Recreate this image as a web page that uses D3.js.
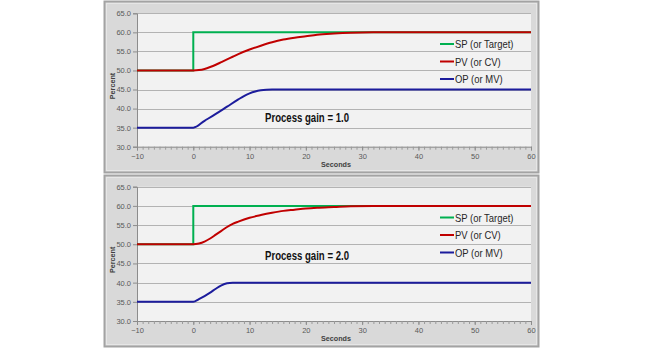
<!DOCTYPE html>
<html>
<head>
<meta charset="utf-8">
<script src="https://cdn.jsdelivr.net/npm/d3@7"></script>
<style>
  html, body { margin: 0; padding: 0; background: #ffffff; }
  svg { display: block; }
  .tick text { font-family: "Liberation Sans", Arial, sans-serif; }
</style>
</head>
<body>
<svg id="chart" width="645" height="350"></svg>
<script>
// Step response of a PID loop for two process gains
const xTicks = [-10, 0, 10, 20, 30, 40, 50, 60];
const yTicks = [30, 35, 40, 45, 50, 55, 60, 65];
const seriesNames = ["SP (or Target)", "PV (or CV)", "OP (or MV)"];
const gainLabels = ["Process gain = 1.0", "Process gain = 2.0"];

// Setpoint step (same in both runs)
const spTime  = [-10, 0, 0, 60];
const spValue = [50, 50, 60, 60];

// Gain 1.0 run
const pv1Time  = [-10, 0, 1, 2, 3, 4, 5, 6, 7, 8, 10, 12, 14, 16, 18, 20, 22, 25, 28, 32, 60];
const pv1Value = [50, 50, 50.1, 50.4, 50.9, 51.5, 52.2, 52.9, 53.6, 54.3, 55.5, 56.5, 57.4, 58.1, 58.6, 59.0, 59.4, 59.7, 59.9, 60, 60];
const op1Time  = [-10, 0, 2, 4, 6, 8, 9, 10, 11, 12, 13, 14, 60];
const op1Value = [35, 35, 36.8, 38.6, 40.5, 42.4, 43.3, 44.0, 44.5, 44.8, 44.95, 45, 45];

// Gain 2.0 run
const pv2Time  = [-10, 0, 1, 2, 3, 4, 5, 6, 7, 8, 10, 12, 14, 16, 18, 20, 22, 25, 28, 32, 60];
const pv2Value = [50, 50, 50.2, 50.7, 51.5, 52.5, 53.5, 54.5, 55.3, 55.9, 56.9, 57.6, 58.2, 58.7, 59.0, 59.3, 59.5, 59.7, 59.9, 60, 60];
const op2Time  = [-10, 0, 1, 2, 3, 4, 5, 6, 7, 60];
const op2Value = [35, 35, 35.7, 36.5, 37.4, 38.4, 39.3, 39.85, 40, 40];

const panels = [
  { top: 1,   gain: gainLabels[0], pvT: pv1Time, pvV: pv1Value, opT: op1Time, opV: op1Value },
  { top: 175, gain: gainLabels[1], pvT: pv2Time, pvV: pv2Value, opT: op2Time, opV: op2Value }
];

const colors = ["#00b050", "#c00000", "#1c1c9c"];
const sans = '"Liberation Sans", Arial, sans-serif';
const svg = d3.select("#chart");

panels.forEach((p, i) => {
  const g = svg.append("g").attr("transform", `translate(0,${p.top})`);

  // chart frame
  g.append("rect").attr("x", 104.5).attr("y", 0.5).attr("width", 434).attr("height", 171)
    .attr("fill", "#d9d9d9").attr("stroke", "#a3a3a3").attr("stroke-width", 2);
  g.append("rect").attr("x", 106.5).attr("y", 2.5).attr("width", 430).attr("height", 167)
    .attr("fill", "none").attr("stroke", "#e6e6e6").attr("stroke-width", 1);

  const plotTop = i === 0 ? 12.3 : 11.7;
  const plotBottom = i === 0 ? 145.7 : 146;
  const x = d3.scaleLinear().domain([-10, 60]).range([137, 531]);
  const y = d3.scaleLinear().domain([30, 65]).range([plotBottom, plotTop]);

  // plot area
  g.append("rect").attr("x", x(-10)).attr("y", y(65)).attr("width", x(60) - x(-10))
    .attr("height", y(30) - y(65)).attr("fill", "#f2f2f2");

  // horizontal gridlines
  g.append("g").selectAll("line").data(yTicks.filter(v => v > 30)).join("line")
    .attr("x1", x(-10)).attr("x2", x(60))
    .attr("y1", d => Math.round(y(d)) + 0.5).attr("y2", d => Math.round(y(d)) + 0.5)
    .attr("stroke", "#b3b3b3").attr("stroke-width", 1);

  // y axis
  const yAxis = g.append("g").attr("transform", `translate(${x(-10)},0)`)
    .call(d3.axisLeft(y).tickValues(yTicks).tickFormat(d3.format(".1f")).tickSize(4).tickPadding(2));
  yAxis.select(".domain").attr("stroke", "#8c8c8c");
  yAxis.selectAll(".tick line").attr("stroke", "#8c8c8c");
  yAxis.selectAll(".tick text").attr("font-size", 7.5).attr("fill", "#595959");

  // x axis: minor ticks every second, labelled every ten
  const xMinor = g.append("g").attr("transform", `translate(0,${y(30)})`)
    .call(d3.axisBottom(x).tickValues(d3.range(-10, 61, 1)).tickFormat("").tickSize(3));
  xMinor.select(".domain").attr("stroke", "#8c8c8c");
  xMinor.selectAll(".tick line").attr("stroke", "#9a9a9a");
  const xAxis = g.append("g").attr("transform", `translate(0,${y(30)})`)
    .call(d3.axisBottom(x).tickValues(xTicks).tickFormat(d3.format("d")).tickSize(4).tickPadding(3));
  xAxis.select(".domain").remove();
  xAxis.selectAll(".tick line").attr("stroke", "#8c8c8c");
  xAxis.selectAll(".tick text").attr("font-size", 7.5).attr("fill", "#595959");

  // axis titles
  g.append("text").attr("transform", "translate(336,166) scale(0.9,1)").attr("text-anchor", "middle")
    .attr("font-family", sans).attr("font-size", 8).attr("font-weight", "bold")
    .attr("fill", "#404040").text("Seconds");
  g.append("text").attr("transform", `translate(115,${(y(65) + y(30)) / 2 + 6}) rotate(-90) scale(0.9,1)`)
    .attr("text-anchor", "middle").attr("font-family", sans).attr("font-size", 8)
    .attr("font-weight", "bold").attr("fill", "#404040").text("Percent");

  // series
  const stepLine = d3.line().x(d => x(d[0])).y(d => y(d[1]));
  const smoothLine = d3.line().x(d => x(d[0])).y(d => y(d[1])).curve(d3.curveMonotoneX);
  g.append("path").datum(d3.zip(spTime, spValue)).attr("d", stepLine)
    .attr("fill", "none").attr("stroke", colors[0]).attr("stroke-width", 2);
  g.append("path").datum(d3.zip(p.pvT, p.pvV)).attr("d", smoothLine)
    .attr("fill", "none").attr("stroke", colors[1]).attr("stroke-width", 2);
  g.append("path").datum(d3.zip(p.opT, p.opV)).attr("d", smoothLine)
    .attr("fill", "none").attr("stroke", colors[2]).attr("stroke-width", 2);

  // legend
  const legendY = i === 0 ? [43, 60.5, 78] : [42.5, 60, 77.5];
  seriesNames.forEach((name, k) => {
    g.append("line").attr("x1", 440).attr("x2", 454).attr("y1", legendY[k]).attr("y2", legendY[k])
      .attr("stroke", colors[k]).attr("stroke-width", 2);
    g.append("text").attr("transform", `translate(455,${legendY[k] + 4}) scale(0.86,1)`)
      .attr("font-family", sans).attr("font-size", 11).attr("fill", "#262626").text(name);
  });

  // gain annotation
  g.append("text").attr("transform", `translate(265,${(i === 0 ? 116.5 : 80) + 4.5}) scale(0.8,1)`)
    .attr("font-family", sans).attr("font-size", 12).attr("font-weight", "bold")
    .attr("fill", "#111111").text(p.gain);
});
</script>
</body>
</html>
